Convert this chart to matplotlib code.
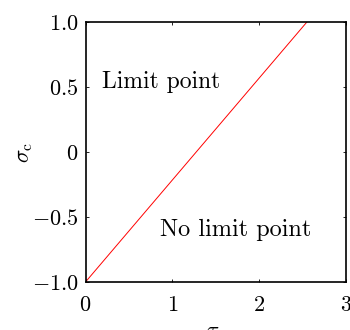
import numpy as np
import matplotlib.pyplot as plt

plt.rcParams['font.family'] = 'serif'
plt.rcParams['font.serif'] = ['cmr10', 'DejaVu Serif']
plt.rcParams['mathtext.fontset'] = 'cm'
plt.rcParams['axes.unicode_minus'] = False

tau = [0.0, 2.55]
sigma_c = [-1.0, 1.0]
xticks = [0, 1, 2, 3]
xlabels = ['$0$', '$1$', '$2$', '$3$']
yticks = [-1.0, -0.5, 0, 0.5, 1.0]
ylabels = ['$-1.0$', '$-0.5$', '$0$', '$0.5$', '$1.0$']

fig = plt.figure(figsize=(3.5, 3.3), dpi=100)
ax = fig.add_axes([85.5/350, 1-282/330, (346-85.5)/350, (282-22)/330])
ax.plot(tau, sigma_c, color='red', lw=0.7)
ax.set_xlim(0, 3)
ax.set_ylim(-1, 1)
ax.set_xticks(xticks)
ax.set_xticklabels(xlabels, fontsize=16)
ax.set_yticks(yticks)
ax.set_yticklabels(ylabels, fontsize=16)
ax.tick_params(direction='in', length=2.5, width=0.6, top=True, right=True)
ax.tick_params(axis='x', pad=10)
ax.tick_params(axis='y', pad=5)
for s in ax.spines.values():
    s.set_linewidth(1.2)

ax.text(0.19, 0.54, 'Limit point', fontsize=17, va='center', ha='left')
ax.text(0.86, -0.6, 'No limit point', fontsize=17.5, va='center', ha='left')
ax.set_xlabel(r'$\tau$', fontsize=16)
ax.xaxis.set_label_coords(0.49, -0.15)
ax.set_ylabel(r'$\sigma_{\rm c}$', fontsize=16)
ax.yaxis.set_label_coords(-0.195, 0.5)

fig.savefig('out.png', dpi=100)
